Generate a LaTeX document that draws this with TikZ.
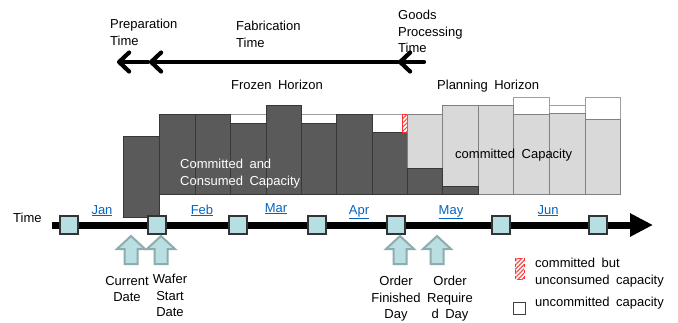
\documentclass[tikz,border=0pt]{standalone}
\usepackage{fontspec}
\setmainfont{Liberation Sans}[WordSpace=1.8]
\usetikzlibrary{arrows.meta,patterns.meta}

\definecolor{bardark}{HTML}{5A5A5A}
\definecolor{barlight}{HTML}{D9D9D9}
\definecolor{tickfill}{HTML}{B7DEE2}
\definecolor{upfill}{HTML}{B9DFE3}
\definecolor{upline}{HTML}{8EABAD}
\definecolor{monthblue}{HTML}{0563C1}

\begin{document}
\begin{tikzpicture}[x=1pt,y=-1pt,
  font=\fontsize{13}{16.5}\selectfont,
  lbl/.style={inner sep=0pt, align=left},
  clbl/.style={inner sep=0pt, align=center, anchor=north},
  month/.style={inner sep=0pt, anchor=base, text=monthblue},
  consumed/.style={draw=black!78, fill=bardark, line width=0.8pt},
  committedbar/.style={draw=black!50, fill=barlight, line width=1pt},
  freebar/.style={draw=black!38, fill=white, line width=1pt},
  hatchbox/.style={draw=red!80, preaction={fill=white},
    pattern={Lines[angle=45,distance=3pt,line width=1.2pt]}, pattern color=red!70},
  spanarrow/.style={line width=4.2pt, line cap=round,
    -{Straight Barb[length=10pt,width=19pt,round]}},
  tick/.style={draw=black!80, fill=tickfill, line width=1.2pt,
    minimum size=18pt, inner sep=0pt},
  uparrow/.style={draw=upline, fill=upfill, line width=2pt, line join=miter}
]
\useasboundingbox (0,0) rectangle (678,322);

% --- uncommitted (white) capacity above the bars
\foreach \xa/\xb/\yt in {230/266/114, 301/336/114, 372/407/114,
                         513/549/97, 549/585/105, 585/620/97}
  \draw[freebar] (\xa,\yt) rectangle (\xb,194);

% --- committed and consumed capacity (frozen horizon)
\draw[consumed] (123,136) rectangle (159,217);
\foreach \xa/\xb/\yt in {159/195/114, 195/230/114, 230/266/123, 266/301/105,
                         301/336/123, 336/372/114, 372/407/132}
  \draw[consumed] (\xa,\yt) rectangle (\xb,194);
\draw[hatchbox] (402,114) rectangle (407,132);

% --- committed capacity (planning horizon)
\foreach \xa/\xb/\yt in {407/442/114, 442/478/105, 478/513/105,
                         513/549/114, 549/585/113, 585/620/119}
  \draw[committedbar] (\xa,\yt) rectangle (\xb,194);
\draw[consumed] (407,168) rectangle (442,194);
\draw[consumed] (442,186) rectangle (478,194);

% --- bar captions
\node[lbl, anchor=north west, text=white] (consumedtxt) at (180,159)
  {Committed and\\Consumed Capacity};
\node[lbl, anchor=north west] (committedtxt) at (455,149) {committed Capacity};
\node[lbl, anchor=north] (frozen) at (277,80) {Frozen Horizon};
\node[lbl, anchor=north west] (planning) at (437,80) {Planning Horizon};

% --- lead-time arrows
\coordinate (prepL) at (117,62);
\coordinate (prepR) at (149,62);
\coordinate (fabR)  at (398,62);
\coordinate (goodsR) at (424,62);
\draw[line width=2.5pt, black!65] (prepL) -- (prepR);
\draw[spanarrow] ([xshift=-1pt]prepR) -- (prepL);
\draw[spanarrow] (fabR) -- (prepR);
\draw[spanarrow] (goodsR) -- (fabR);
\node[lbl, anchor=north west] (preptxt) at (110,19) {Preparation\\Time};
\node[lbl, anchor=north west] (fabtxt) at (236,21) {Fabrication\\Time};
\node[lbl, anchor=north west] (goodstxt) at (398,10) {Goods\\Processing\\Time};

% --- time axis
\node[lbl, anchor=north west] (timetxt) at (13,213) {Time};
\coordinate (tl0) at (52,225);
\coordinate (tl1) at (653,225);
\draw[line width=7pt, -{Triangle[length=23pt,width=22pt]}] (tl0) -- (tl1);
\foreach \x [count=\i from 0] in {69,157,238,317,396,501,598}
  \node[tick] (d\i) at (\x,225) {};

\node[month] (jan) at (102,214) {\underline{Jan}};
\node[month] (feb) at (202,214) {\underline{Feb}};
\node[month] (mar) at (276,212) {\underline{Mar}};
\node[month] (apr) at (359,214) {\underline{Apr}};
\node[month] (may) at (451,214) {\underline{May}};
\node[month] (jun) at (548,214) {\underline{Jun}};

% --- date markers
\foreach \cx in {131,161,400,437}
  \draw[uparrow] (\cx,236) -- ++(14,13) -- ++(-7.5,0) -- ++(0,15)
    -- ++(-13,0) -- ++(0,-15) -- ++(-7.5,0) -- cycle;
\node[clbl] (curdate) at (127,276) {Current\\Date};
\node[clbl] (wafer) at (170,274) {Wafer\\Start\\Date};
\node[clbl] (finished) at (396,276) {Order\\Finished\\Day};
\node[clbl] (required) at (450,276) {Order\\Require\\d Day};

% --- legend
\draw[hatchbox, dashed] (515,258) rectangle (524,279);
\node[lbl, anchor=north west] (legA) at (535,258) {committed but\\unconsumed capacity};
\draw[draw=black!75, line width=1pt, fill=white] (513,302) rectangle (525,314);
\node[lbl, anchor=north west] (legB) at (535,297) {uncommitted capacity};
\end{tikzpicture}
\end{document}
